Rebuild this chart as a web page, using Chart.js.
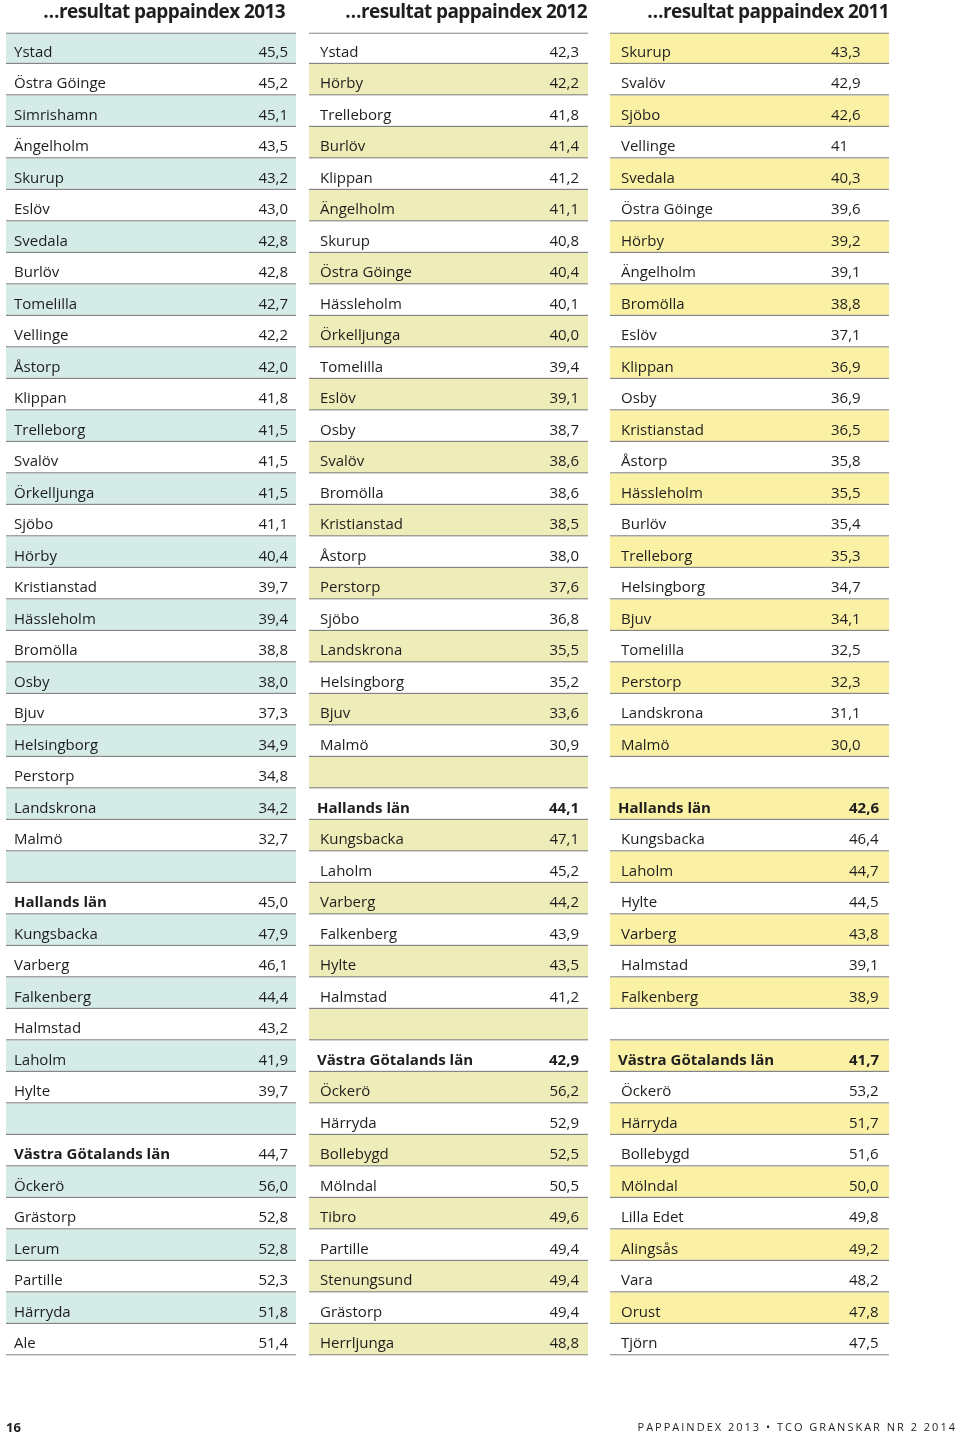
<!DOCTYPE html>
<html>
<head>
<meta charset="utf-8">
<script src="https://cdn.jsdelivr.net/npm/chart.js@4/dist/chart.umd.min.js"></script>
<style>
  html, body { margin: 0; padding: 0; background: #fff; }
  #wrap { position: relative; width: 960px; height: 1436px; font-family: "Open Sans", sans-serif; color: #1e1e1e; }
  #wrap canvas { position: absolute; left: 0; top: 0; }
  .title { position: absolute; top: -1px; font-size: 19px; font-weight: 700; line-height: 24px; white-space: nowrap; letter-spacing: -0.6px; }
  .foot { position: absolute; top: 1419px; line-height: 16px; white-space: nowrap; }
</style>
</head>
<body>
<div id="wrap">
  <canvas id="tbl" width="960" height="1436"></canvas>
  <div class="title" style="right:675px">…resultat pappaindex 2013</div>
  <div class="title" style="right:373px">…resultat pappaindex 2012</div>
  <div class="title" style="right:71px">…resultat pappaindex 2011</div>
  <div class="foot" style="left:6px;font-size:13px;font-weight:700">16</div>
  <div class="foot" style="right:3px;font-size:11px;letter-spacing:2px">PAPPAINDEX 2013 • TCO GRANSKAR NR 2 2014</div>
</div>
<script>
// kommuner och index per år ('' = tom rad)
const names2013 = ['Ystad', 'Östra Göinge', 'Simrishamn', 'Ängelholm', 'Skurup', 'Eslöv', 'Svedala', 'Burlöv',
  'Tomelilla', 'Vellinge', 'Åstorp', 'Klippan', 'Trelleborg', 'Svalöv', 'Örkelljunga', 'Sjöbo', 'Hörby',
  'Kristianstad', 'Hässleholm', 'Bromölla', 'Osby', 'Bjuv', 'Helsingborg', 'Perstorp', 'Landskrona', 'Malmö', '',
  'Hallands län', 'Kungsbacka', 'Varberg', 'Falkenberg', 'Halmstad', 'Laholm', 'Hylte', '',
  'Västra Götalands län', 'Öckerö', 'Grästorp', 'Lerum', 'Partille', 'Härryda', 'Ale'];
const values2013 = [45.5, 45.2, 45.1, 43.5, 43.2, 43.0, 42.8, 42.8, 42.7, 42.2, 42.0, 41.8, 41.5, 41.5, 41.5, 41.1,
  40.4, 39.7, 39.4, 38.8, 38.0, 37.3, 34.9, 34.8, 34.2, 32.7, null,
  45.0, 47.9, 46.1, 44.4, 43.2, 41.9, 39.7, null,
  44.7, 56.0, 52.8, 52.8, 52.3, 51.8, 51.4];

const names2012 = ['Ystad', 'Hörby', 'Trelleborg', 'Burlöv', 'Klippan', 'Ängelholm', 'Skurup', 'Östra Göinge',
  'Hässleholm', 'Örkelljunga', 'Tomelilla', 'Eslöv', 'Osby', 'Svalöv', 'Bromölla', 'Kristianstad', 'Åstorp',
  'Perstorp', 'Sjöbo', 'Landskrona', 'Helsingborg', 'Bjuv', 'Malmö', '',
  'Hallands län', 'Kungsbacka', 'Laholm', 'Varberg', 'Falkenberg', 'Hylte', 'Halmstad', '',
  'Västra Götalands län', 'Öckerö', 'Härryda', 'Bollebygd', 'Mölndal', 'Tibro', 'Partille', 'Stenungsund',
  'Grästorp', 'Herrljunga'];
const values2012 = [42.3, 42.2, 41.8, 41.4, 41.2, 41.1, 40.8, 40.4, 40.1, 40.0, 39.4, 39.1, 38.7, 38.6, 38.6, 38.5,
  38.0, 37.6, 36.8, 35.5, 35.2, 33.6, 30.9, null,
  44.1, 47.1, 45.2, 44.2, 43.9, 43.5, 41.2, null,
  42.9, 56.2, 52.9, 52.5, 50.5, 49.6, 49.4, 49.4, 49.4, 48.8];

const names2011 = ['Skurup', 'Svalöv', 'Sjöbo', 'Vellinge', 'Svedala', 'Östra Göinge', 'Hörby', 'Ängelholm',
  'Bromölla', 'Eslöv', 'Klippan', 'Osby', 'Kristianstad', 'Åstorp', 'Hässleholm', 'Burlöv', 'Trelleborg',
  'Helsingborg', 'Bjuv', 'Tomelilla', 'Perstorp', 'Landskrona', 'Malmö', '',
  'Hallands län', 'Kungsbacka', 'Laholm', 'Hylte', 'Varberg', 'Halmstad', 'Falkenberg', '',
  'Västra Götalands län', 'Öckerö', 'Härryda', 'Bollebygd', 'Mölndal', 'Lilla Edet', 'Alingsås', 'Vara',
  'Orust', 'Tjörn'];
const values2011 = [43.3, 42.9, 42.6, 41, 40.3, 39.6, 39.2, 39.1, 38.8, 37.1, 36.9, 36.9, 36.5, 35.8, 35.5, 35.4,
  35.3, 34.7, 34.1, 32.5, 32.3, 31.1, 30.0, null,
  42.6, 46.4, 44.7, 44.5, 43.8, 39.1, 38.9, null,
  41.7, 53.2, 51.7, 51.6, 50.0, 49.8, 49.2, 48.2, 47.8, 47.5];
const wholeNumbers2011 = ['Vellinge']; // visas utan decimal i källan

const countyRows = ['Hallands län', 'Västra Götalands län'];

// kolumnernas placering (x i px) och färger
const columns = [
  { names: names2013, values: values2013, x0: 6, x1: 296, nameX: 14, boldNameX: 14, valX: 288, align: 'right',
    fill: '#d4ebe7', firstFilled: 0, boldValue: false },
  { names: names2012, values: values2012, x0: 309, x1: 588, nameX: 320, boldNameX: 317, valX: 579, align: 'right',
    fill: '#eeedb9', firstFilled: 1, boldValue: true },
  { names: names2011, values: values2011, x0: 610, x1: 889, nameX: 621, boldNameX: 618, valX: 831, valX2: 849,
    align: 'left', fill: '#fbf1a4', firstFilled: 0, boldValue: true, whole: wholeNumbers2011 }
];

const rowLabels = names2013.map((_, i) => String(i));
const lineColor = '#858585';

function fmt(v, name, col) {
  if (v === null) return '';
  if (col.whole && col.whole.includes(name)) return String(v);
  return v.toFixed(1).replace('.', ',');
}

const datasets = columns.map(col => ({
  data: col.names.map(() => [col.x0, col.x1]),
  backgroundColor: col.names.map((_, i) => (i % 2 === col.firstFilled ? col.fill : '#ffffff')),
  borderColor: lineColor,
  borderWidth: ctx => ({ top: ctx.dataIndex === 0 ? 1.5 : 0, bottom: 1.5, left: 0, right: 0 }),
  borderSkipped: false,
  barPercentage: 1,
  categoryPercentage: 1,
  grouped: false
}));

// skriver namn och värden i cellerna
const cellText = {
  id: 'cellText',
  afterDatasetsDraw(chart) {
    const c = chart.ctx;
    const xs = chart.scales.x;
    const ys = chart.scales.y;
    c.save();
    c.fillStyle = '#1e1e1e';
    c.textBaseline = 'alphabetic';
    columns.forEach(col => {
      col.names.forEach((name, i) => {
        if (!name) return;
        const y = ys.getPixelForValue(i) + 8.5;
        const bold = countyRows.includes(name);
        c.font = (bold ? '700 ' : '400 ') + '15px "Open Sans"';
        c.textAlign = 'left';
        c.fillText(name, xs.getPixelForValue(bold ? col.boldNameX : col.nameX), y);
        c.font = (bold && col.boldValue ? '700 ' : '400 ') + '15px "Open Sans"';
        c.textAlign = col.align;
        const vx = (col.valX2 && i > 23) ? col.valX2 : col.valX;
        c.fillText(fmt(col.values[i], name, col), xs.getPixelForValue(vx), y);
      });
    });
    c.restore();
  }
};

new Chart(document.getElementById('tbl'), {
  type: 'bar',
  data: { labels: rowLabels, datasets },
  options: {
    indexAxis: 'y',
    responsive: false,
    animation: false,
    devicePixelRatio: 1,
    layout: { padding: { top: 32.5, bottom: 80.5, left: 0, right: 0 } },
    scales: {
      x: { type: 'linear', min: 0, max: 960, display: false },
      y: { type: 'category', display: false, offset: true }
    },
    plugins: {
      legend: { display: false },
      tooltip: { enabled: false }
    }
  },
  plugins: [cellText]
});
</script>
</body>
</html>
